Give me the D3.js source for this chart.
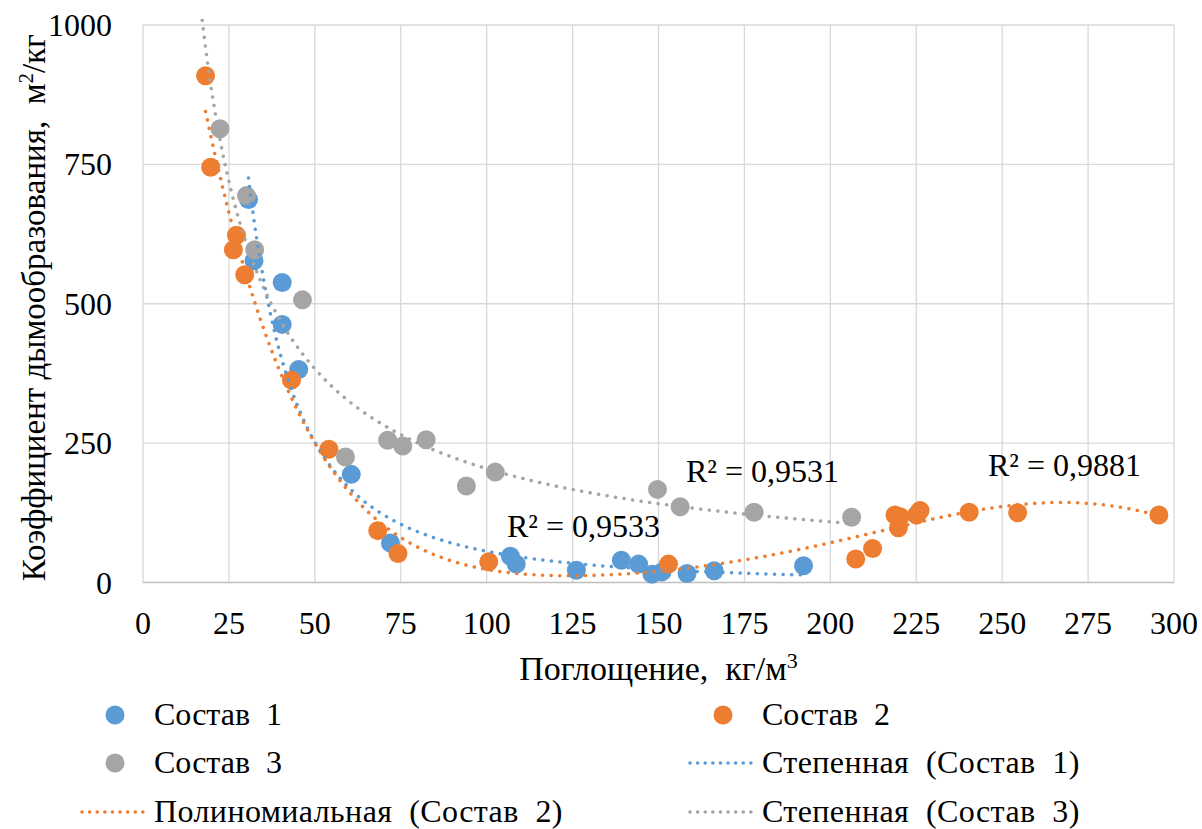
<!DOCTYPE html>
<html>
<head>
<meta charset="utf-8">
<script src="https://cdn.jsdelivr.net/npm/d3@7"></script>
<style>
  body { margin: 0; background: #fff; }
  svg { display: block; font-family: "Liberation Serif", "Times New Roman", serif; }
</style>
</head>
<body>
<div id="main"></div>
<script>
// Состав 1
const s1x = [30.7, 32.3, 40.5, 40.5, 45.3, 60.6, 72.0, 106.9, 108.6, 126.1, 139.2, 144.2, 148.1, 151.0, 158.3, 166.2, 192.2];
const s1y = [687, 577, 538, 463, 382, 194, 71, 47, 33, 22, 40, 33, 15, 19, 16, 21, 30];
// Состав 2
const s2x = [18.2, 19.7, 27.2, 26.3, 29.6, 43.2, 54.1, 68.3, 74.2, 100.6, 152.9, 207.4, 212.3, 219.8, 218.8, 220.3, 225.1, 226.1, 240.4, 254.5, 295.6];
const s2y = [909, 745, 623, 597, 552, 363, 239, 93, 52, 37, 33, 42, 61, 98, 121, 118, 121, 129, 126, 125, 121];
// Состав 3
const s3x = [22.4, 30.1, 32.5, 46.4, 58.9, 71.2, 75.6, 82.4, 94.1, 102.5, 149.7, 156.3, 177.8, 206.2];
const s3y = [814, 694, 597, 507, 225, 255, 245, 256, 173, 198, 167, 136, 126, 117];

const xTicks = [0, 25, 50, 75, 100, 125, 150, 175, 200, 225, 250, 275, 300];
const yTicks = [0, 250, 500, 750, 1000];
const r2Labels = ["R² = 0,9533", "R² = 0,9881", "R² = 0,9531"];
const polyDegree = 6;
const grayBackward = 6;

const blue = "#5B9BD5", orange = "#ED7D31", gray = "#A5A5A5";

const width = 1202, height = 829;
const x = d3.scaleLinear().domain([0, 300]).range([143, 1174]);
const y = d3.scaleLinear().domain([0, 1000]).range([582.5, 25]);

const svg = d3.select("#main").append("svg")
    .attr("width", width)
    .attr("height", height);

// grid
svg.append("g").selectAll("line").data(xTicks).enter().append("line")
    .attr("x1", d => x(d)).attr("x2", d => x(d))
    .attr("y1", y(1000)).attr("y2", y(0))
    .attr("stroke", "#d9d9d9").attr("stroke-width", 1.3);
svg.append("g").selectAll("line").data(yTicks.filter(d => d > 0)).enter().append("line")
    .attr("x1", x(0)).attr("x2", x(300))
    .attr("y1", d => y(d)).attr("y2", d => y(d))
    .attr("stroke", "#d9d9d9").attr("stroke-width", 1.3);
svg.append("line")
    .attr("x1", x(0)).attr("x2", x(300))
    .attr("y1", y(0)).attr("y2", y(0))
    .attr("stroke", "#bfbfbf").attr("stroke-width", 1.5);

// tick labels
svg.append("g").selectAll("text").data(xTicks).enter().append("text")
    .attr("x", d => x(d)).attr("y", 634)
    .attr("text-anchor", "middle")
    .attr("font-size", 32)
    .text(d => d);
svg.append("g").selectAll("text").data(yTicks).enter().append("text")
    .attr("x", 112).attr("y", d => y(d) + 11)
    .attr("text-anchor", "end")
    .attr("font-size", 32)
    .text(d => d);

// axis titles
svg.append("text")
    .attr("x", x(150)).attr("y", 680)
    .attr("text-anchor", "middle")
    .attr("font-size", 34)
    .attr("xml:space", "preserve")
    .html("Поглощение,  кг/м<tspan dy='-12' font-size='22'>3</tspan>");
svg.append("text")
    .attr("transform", "translate(45," + (y(500) + 4) + ") rotate(-90)")
    .attr("text-anchor", "middle")
    .attr("font-size", 33)
    .attr("xml:space", "preserve")
    .html("Коэффициент дымообразования,  м<tspan dy='-12' font-size='21'>2</tspan><tspan dy='12'>/кг</tspan>");

// fits
function powerFit(xs, ys) {
  const lx = xs.map(Math.log), ly = ys.map(Math.log);
  const mx = d3.mean(lx), my = d3.mean(ly);
  let sxy = 0, sxx = 0;
  lx.forEach((v, i) => { sxy += (v - mx) * (ly[i] - my); sxx += (v - mx) * (v - mx); });
  const b = sxy / sxx, a = Math.exp(my - b * mx);
  return v => a * Math.pow(v, b);
}

function polyFit(xs, ys, deg) {
  const mx = d3.mean(xs), sx = d3.deviation(xs);
  const ts = xs.map(v => (v - mx) / sx);
  const n = deg + 1;
  const A = Array.from({length: n}, () => new Array(n + 1).fill(0));
  ts.forEach((t, k) => {
    for (let i = 0; i < n; i++) {
      for (let j = 0; j < n; j++) A[i][j] += Math.pow(t, i + j);
      A[i][n] += Math.pow(t, i) * ys[k];
    }
  });
  for (let c = 0; c < n; c++) {
    let p = c;
    for (let r = c + 1; r < n; r++) if (Math.abs(A[r][c]) > Math.abs(A[p][c])) p = r;
    [A[c], A[p]] = [A[p], A[c]];
    for (let r = 0; r < n; r++) {
      if (r === c) continue;
      const f = A[r][c] / A[c][c];
      for (let j = c; j <= n; j++) A[r][j] -= f * A[c][j];
    }
  }
  const coef = A.map((row, i) => row[n] / row[i]);
  return v => {
    const t = (v - mx) / sx;
    return coef.reduce((s, c, i) => s + c * Math.pow(t, i), 0);
  };
}

function sample(f, x0, x1) {
  return d3.range(0, 301).map(i => {
    const v = x0 + (x1 - x0) * i / 300;
    return [v, f(v)];
  });
}

const f1 = powerFit(s1x, s1y);
const f2 = polyFit(s2x, s2y, polyDegree);
const f3 = powerFit(s3x, s3y);

const series = [
  {xs: s1x, ys: s1y, color: blue},
  {xs: s2x, ys: s2y, color: orange},
  {xs: s3x, ys: s3y, color: gray}
];

svg.append("defs").append("clipPath").attr("id", "plot")
  .append("rect").attr("x", x(0)).attr("y", y(1000) - 6)
  .attr("width", x(300) - x(0)).attr("height", y(0) - y(1000) + 6);

const pts = svg.append("g");
series.forEach(s => {
  pts.append("g").selectAll("circle").data(s.xs).enter().append("circle")
     .attr("cx", d => x(d))
     .attr("cy", (d, i) => y(s.ys[i]))
     .attr("r", 9.5)
     .attr("fill", s.color);
});

const line = d3.line().x(d => x(d[0])).y(d => y(d[1]));
const trends = [
  {data: sample(f1, d3.min(s1x), d3.max(s1x)), color: blue},
  {data: sample(f2, d3.min(s2x), d3.max(s2x)), color: orange},
  {data: sample(f3, d3.min(s3x) - grayBackward, d3.max(s3x)), color: gray}
];
svg.append("g").attr("clip-path", "url(#plot)")
  .selectAll("path").data(trends).enter().append("path")
  .attr("d", d => line(d.data))
  .attr("fill", "none")
  .attr("stroke", d => d.color)
  .attr("stroke-width", 3.5)
  .attr("stroke-linecap", "round")
  .attr("stroke-dasharray", "0.1 8.5");

// R² labels
const r2Pos = [[507, 537], [988, 476], [686, 482]];
svg.append("g").selectAll("text").data(r2Labels).enter().append("text")
  .attr("x", (d, i) => r2Pos[i][0]).attr("y", (d, i) => r2Pos[i][1])
  .attr("font-size", 32)
  .text(d => d);

// legend
const legend = [
  {label: "Состав  1", type: "dot", color: blue, lx: 115, ly: 715},
  {label: "Состав  2", type: "dot", color: orange, lx: 723, ly: 715},
  {label: "Состав  3", type: "dot", color: gray, lx: 115, ly: 763},
  {label: "Степенная  (Состав  1)", type: "line", color: blue, lx: 723, ly: 763},
  {label: "Полиномиальная  (Состав  2)", type: "line", color: orange, lx: 115, ly: 812},
  {label: "Степенная  (Состав  3)", type: "line", color: gray, lx: 723, ly: 812}
];
const lg = svg.append("g").selectAll("g").data(legend).enter().append("g");
lg.filter(d => d.type === "dot").append("circle")
  .attr("cx", d => d.lx).attr("cy", d => d.ly).attr("r", 9.5)
  .attr("fill", d => d.color);
lg.filter(d => d.type === "line").append("line")
  .attr("x1", d => d.lx - 33).attr("x2", d => d.lx + 28)
  .attr("y1", d => d.ly).attr("y2", d => d.ly)
  .attr("stroke", d => d.color)
  .attr("stroke-width", 3.5)
  .attr("stroke-linecap", "round")
  .attr("stroke-dasharray", "0.1 7.5");
lg.append("text")
  .attr("x", d => d.lx + 39).attr("y", d => d.ly + 10)
  .attr("font-size", 32)
  .attr("letter-spacing", d => d.type === "line" ? 0.4 : 0)
  .attr("xml:space", "preserve")
  .text(d => d.label);
</script>
</body>
</html>
